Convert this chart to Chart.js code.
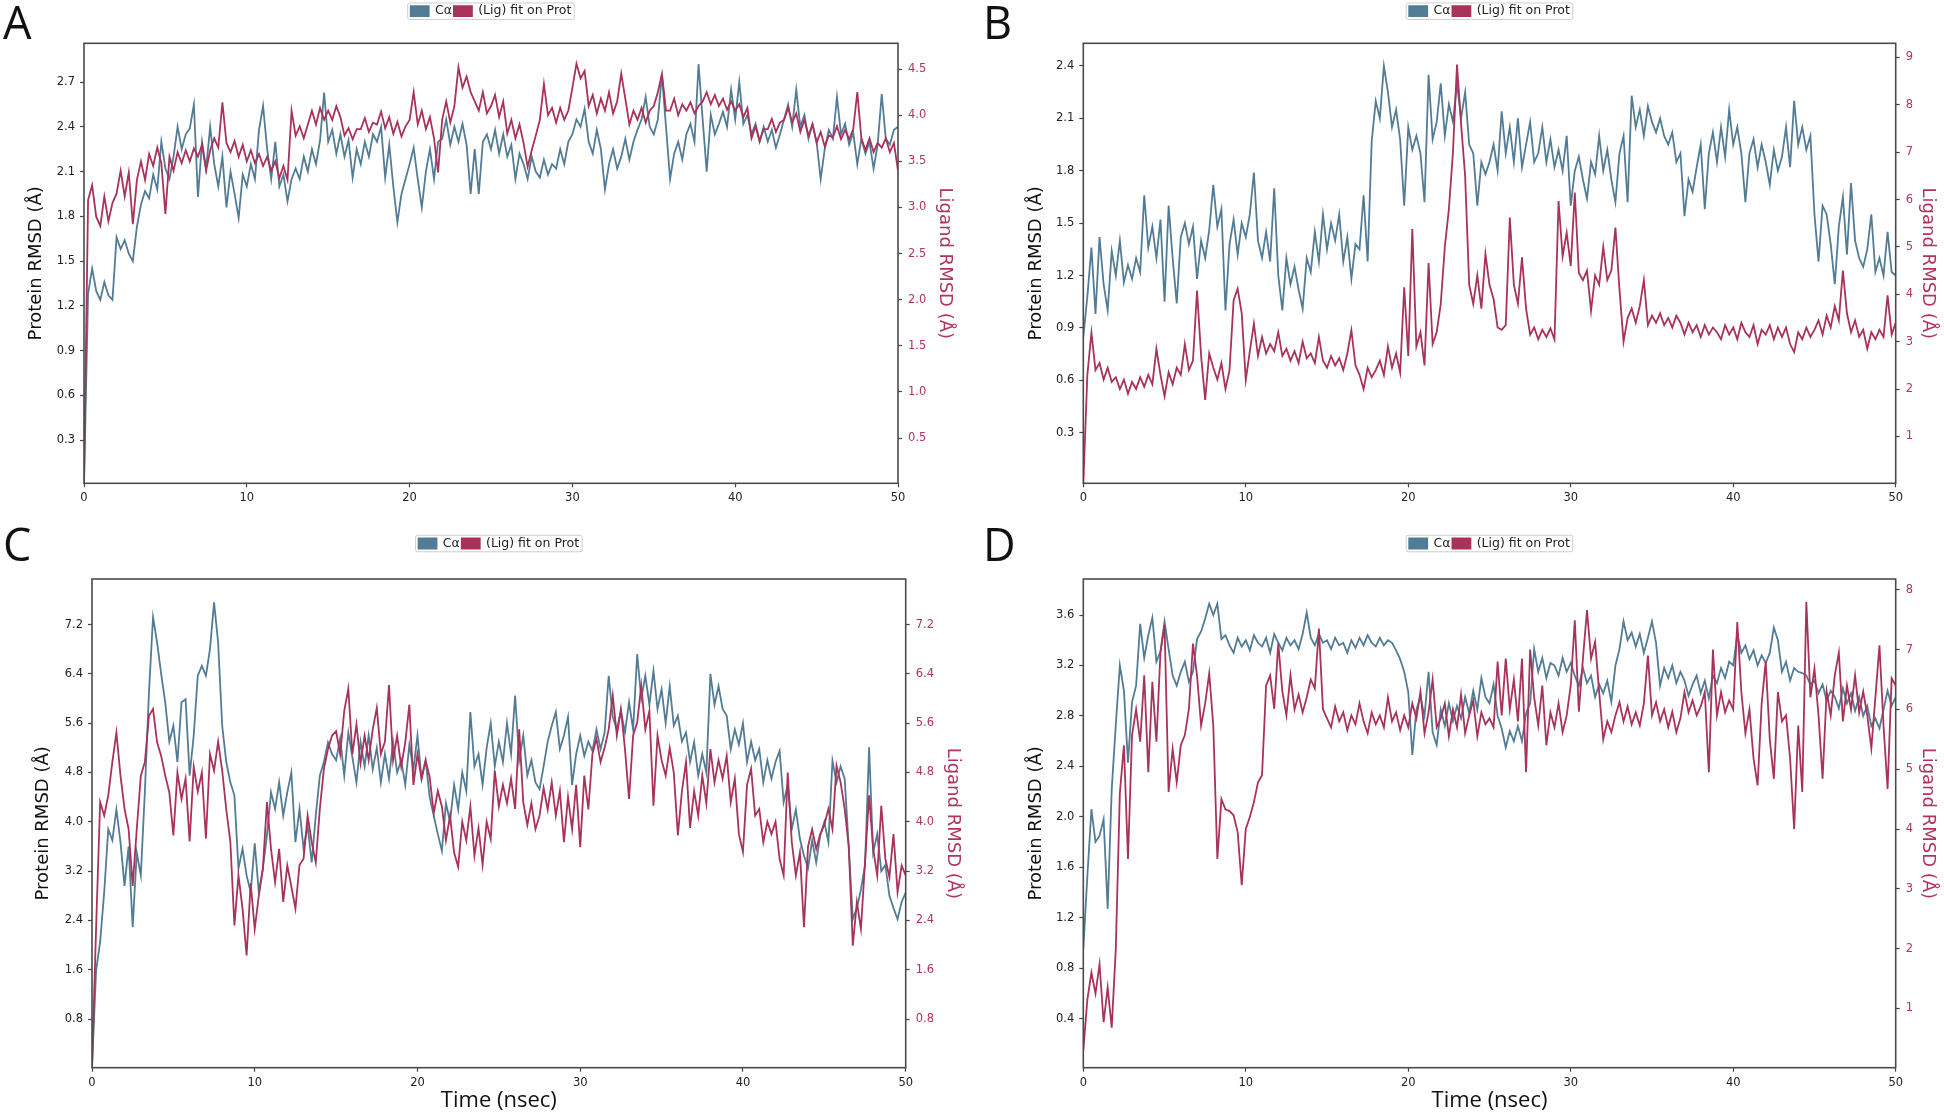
<!DOCTYPE html>
<html>
<head>
<meta charset="utf-8">
<script src="https://cdn.jsdelivr.net/npm/chart.js@4.4.1/dist/chart.umd.min.js"></script>
<style>
html, body { margin: 0; padding: 0; background: #fff; }
body { width: 1944px; height: 1115px; position: relative; overflow: hidden; }
.panel { position: absolute; }
.tag { position: absolute; font-family: 'Open Sans', sans-serif; font-size: 45px; line-height: 45px; color: #111; }
</style>
</head>
<body>
<div class="panel" id="pA" style="left:0;top:0;width:972px;height:508px"><canvas></canvas></div>
<div class="panel" id="pB" style="left:972px;top:0;width:972px;height:508px"><canvas></canvas></div>
<div class="panel" id="pC" style="left:0;top:530px;width:972px;height:585px"><canvas></canvas></div>
<div class="panel" id="pD" style="left:972px;top:530px;width:972px;height:585px"><canvas></canvas></div>
<div class="tag" style="left:3px;top:-1px">A</div>
<div class="tag" style="left:983px;top:-1px">B</div>
<div class="tag" style="left:3px;top:521px">C</div>
<div class="tag" style="left:983px;top:521px">D</div>
<script>
// simulation time (ns), one sample every 0.25 ns
const timeNs = [
  0,0.25,0.5,0.75,1,1.25,1.5,1.75,2,2.25,2.5,2.75,3,3.25,3.5,3.75,4,4.25,4.5,4.75,
  5,5.25,5.5,5.75,6,6.25,6.5,6.75,7,7.25,7.5,7.75,8,8.25,8.5,8.75,9,9.25,9.5,9.75,
  10,10.25,10.5,10.75,11,11.25,11.5,11.75,12,12.25,12.5,12.75,13,13.25,13.5,13.75,14,14.25,14.5,14.75,
  15,15.25,15.5,15.75,16,16.25,16.5,16.75,17,17.25,17.5,17.75,18,18.25,18.5,18.75,19,19.25,19.5,19.75,
  20,20.25,20.5,20.75,21,21.25,21.5,21.75,22,22.25,22.5,22.75,23,23.25,23.5,23.75,24,24.25,24.5,24.75,
  25,25.25,25.5,25.75,26,26.25,26.5,26.75,27,27.25,27.5,27.75,28,28.25,28.5,28.75,29,29.25,29.5,29.75,
  30,30.25,30.5,30.75,31,31.25,31.5,31.75,32,32.25,32.5,32.75,33,33.25,33.5,33.75,34,34.25,34.5,34.75,
  35,35.25,35.5,35.75,36,36.25,36.5,36.75,37,37.25,37.5,37.75,38,38.25,38.5,38.75,39,39.25,39.5,39.75,
  40,40.25,40.5,40.75,41,41.25,41.5,41.75,42,42.25,42.5,42.75,43,43.25,43.5,43.75,44,44.25,44.5,44.75,
  45,45.25,45.5,45.75,46,46.25,46.5,46.75,47,47.25,47.5,47.75,48,48.25,48.5,48.75,49,49.25,49.5,49.75,
  50
];

// panel A
const protA = [
  0.00,1.28,1.45,1.30,1.24,1.36,1.27,1.24,1.66,1.58,1.64,1.55,1.50,1.73,1.88,1.97,1.92,2.08,1.98,2.30,
  2.12,2.05,2.20,2.40,2.25,2.35,2.39,2.55,1.93,2.30,2.12,2.40,2.15,2.00,2.20,1.86,2.10,1.95,1.79,2.08,
  2.00,2.15,2.05,2.38,2.54,2.25,2.05,2.30,2.00,2.08,1.90,2.05,2.12,2.05,2.20,2.10,2.25,2.15,2.31,2.63,
  2.30,2.38,2.22,2.35,2.20,2.31,2.06,2.25,2.15,2.30,2.20,2.35,2.30,2.40,2.06,2.28,2.00,1.76,1.95,2.05,
  2.15,2.26,2.05,1.86,2.10,2.25,2.05,2.30,2.32,2.45,2.28,2.40,2.30,2.42,2.28,1.95,2.25,1.95,2.30,2.35,
  2.25,2.38,2.22,2.35,2.20,2.28,2.05,2.22,2.15,2.05,2.20,2.10,2.06,2.18,2.08,2.15,2.12,2.25,2.15,2.30,
  2.35,2.45,2.40,2.52,2.30,2.22,2.38,2.25,1.98,2.15,2.25,2.12,2.20,2.32,2.18,2.30,2.38,2.45,2.60,2.40,
  2.35,2.45,2.75,2.40,2.05,2.22,2.30,2.18,2.35,2.42,2.30,2.82,2.45,2.10,2.48,2.35,2.42,2.50,2.40,2.65,
  2.45,2.70,2.42,2.48,2.35,2.42,2.30,2.40,2.30,2.38,2.26,2.35,2.45,2.55,2.40,2.65,2.40,2.48,2.32,2.42,
  2.30,2.05,2.25,2.38,2.32,2.60,2.35,2.42,2.28,2.36,2.15,2.32,2.22,2.30,2.12,2.28,2.62,2.32,2.28,2.38,
  2.40
];
const ligA = [
  0.00,3.08,3.24,2.90,2.80,3.12,2.85,3.05,3.15,3.40,3.12,3.38,2.82,3.30,3.50,3.30,3.58,3.45,3.65,3.48,
  2.93,3.55,3.40,3.60,3.48,3.62,3.50,3.64,3.55,3.68,3.40,3.62,3.75,3.65,4.14,3.70,3.60,3.72,3.55,3.68,
  3.50,3.62,3.48,3.58,3.45,3.55,3.40,3.50,3.32,3.45,3.30,4.05,3.78,3.88,3.75,3.90,4.05,3.90,4.08,3.95,
  4.05,3.95,4.10,3.98,3.78,3.86,3.74,3.85,3.85,3.97,3.82,3.92,3.90,4.04,3.86,3.98,3.80,3.93,3.77,3.88,
  3.95,4.25,3.90,4.05,3.85,3.98,3.75,3.38,3.95,4.15,3.92,4.10,4.52,4.30,4.42,4.25,4.15,4.05,4.25,4.02,
  4.10,4.22,3.98,4.15,3.80,3.95,3.75,3.90,3.70,3.44,3.62,3.78,3.95,4.34,4.00,4.08,3.92,4.08,3.95,4.05,
  4.30,4.56,4.40,4.48,4.10,4.22,4.02,4.18,4.05,4.25,4.02,4.15,4.45,4.18,3.90,4.05,3.95,4.08,3.92,4.05,
  4.10,4.25,4.45,4.05,4.05,4.18,4.00,4.12,4.05,4.14,4.02,4.10,4.15,4.25,4.12,4.22,4.10,4.18,4.06,4.15,
  4.05,4.12,3.98,4.08,3.75,3.88,3.72,3.85,3.85,3.96,3.82,3.92,3.95,4.08,3.92,4.02,3.82,3.95,3.78,3.90,
  3.70,3.82,3.66,3.78,3.76,3.88,3.74,3.84,3.74,3.85,4.25,3.75,3.62,3.75,3.60,3.70,3.65,3.75,3.60,3.70,
  3.40
];

// panel B
const protB = [
  0.85,1.08,1.36,0.98,1.42,1.15,1.00,1.34,1.20,1.40,1.16,1.26,1.18,1.30,1.22,1.66,1.36,1.48,1.30,1.52,
  1.05,1.60,1.30,1.04,1.42,1.50,1.38,1.48,1.18,1.40,1.30,1.46,1.72,1.48,1.58,1.00,1.38,1.52,1.32,1.50,
  1.42,1.55,1.79,1.40,1.30,1.45,1.28,1.70,1.20,1.00,1.30,1.15,1.25,1.12,1.01,1.30,1.22,1.45,1.28,1.55,
  1.35,1.50,1.40,1.55,1.28,1.42,1.18,1.38,1.35,1.66,1.28,1.97,2.20,2.10,2.40,2.25,2.05,2.15,1.98,1.60,
  2.05,1.92,2.00,1.90,1.62,2.35,1.98,2.08,2.30,2.00,2.18,2.08,2.30,2.10,2.25,1.95,1.90,1.60,1.85,1.78,
  1.85,1.95,1.80,2.14,1.90,2.05,1.85,2.10,1.82,1.95,2.08,1.85,1.90,2.05,1.85,1.98,1.82,1.92,1.80,2.00,
  1.60,1.80,1.88,1.75,1.64,1.85,1.78,2.00,1.80,1.92,1.75,1.62,1.90,2.00,1.62,2.23,2.05,2.15,2.00,2.17,
  2.08,2.02,2.10,2.00,1.95,2.02,1.85,1.90,1.54,1.75,1.68,1.82,1.95,1.58,1.90,2.02,1.85,2.05,1.88,2.15,
  1.95,2.05,1.90,1.62,1.90,1.98,1.82,1.95,1.85,1.72,1.92,1.80,1.88,2.05,1.82,2.20,1.95,2.05,1.92,2.00,
  1.55,1.28,1.60,1.55,1.38,1.15,1.48,1.65,1.32,1.73,1.40,1.30,1.25,1.35,1.55,1.22,1.30,1.20,1.45,1.22,
  1.20
];
const ligB = [
  0.00,2.30,3.19,2.40,2.55,2.20,2.45,2.15,2.25,2.00,2.20,1.90,2.15,2.00,2.25,2.05,2.30,2.10,2.85,2.30,
  1.85,2.35,2.10,2.45,2.30,2.95,2.40,2.60,4.08,2.70,1.77,2.75,2.45,2.20,2.55,2.00,2.40,3.87,4.12,3.60,
  2.19,2.80,3.38,2.70,3.10,2.75,2.95,2.80,3.20,2.70,2.85,2.60,2.80,2.55,3.00,2.65,2.75,2.55,3.10,2.60,
  2.45,2.70,2.50,2.65,2.40,2.75,3.24,2.50,2.30,2.00,2.45,2.25,2.40,2.60,2.30,2.90,2.45,2.75,2.35,4.15,
  2.70,5.38,2.90,3.20,2.50,4.66,2.95,3.20,3.80,5.00,5.80,7.00,8.85,7.60,6.50,4.20,3.80,4.40,3.70,4.85,
  4.20,3.90,3.30,3.25,3.35,5.62,4.20,3.80,4.78,3.70,3.15,3.30,3.05,3.25,3.10,3.28,3.05,5.97,4.80,5.30,
  4.60,6.15,4.45,4.30,4.50,3.65,4.40,4.20,5.00,4.30,4.50,5.41,4.10,3.00,3.50,3.70,3.40,3.75,4.30,3.35,
  3.55,3.40,3.60,3.35,3.50,3.30,3.55,3.40,3.15,3.40,3.20,3.35,3.10,3.35,3.15,3.30,3.20,3.05,3.35,3.15,
  3.30,3.05,3.40,3.20,3.10,3.35,2.95,3.25,3.15,3.35,3.05,3.30,3.10,3.30,2.95,2.78,3.20,3.05,3.30,3.10,
  3.25,3.45,3.15,3.55,3.30,3.75,3.45,4.50,3.60,3.20,3.45,3.10,3.25,2.85,3.20,3.05,3.25,3.10,3.98,3.15,
  3.40
];

// panel C
const protC = [
  0.00,1.58,2.05,2.86,3.88,3.70,4.20,3.67,2.96,3.60,2.29,3.50,3.13,4.50,6.10,7.32,6.91,6.40,5.94,5.30,
  5.56,4.97,5.94,5.99,4.75,5.40,6.37,6.53,6.37,6.80,7.56,6.91,5.56,4.97,4.64,4.43,3.24,3.56,3.13,2.86,
  3.65,2.86,3.24,3.78,4.48,4.21,4.64,4.10,4.48,4.80,3.67,4.21,3.56,3.94,3.34,4.10,4.75,4.97,5.29,5.10,
  5.00,5.35,4.75,5.45,5.05,4.64,5.30,4.90,5.40,4.85,5.20,4.64,5.10,4.70,5.30,4.80,5.00,4.60,5.25,4.85,
  5.40,4.70,5.00,4.40,4.10,3.80,3.53,4.30,4.00,4.60,4.20,4.80,4.50,5.78,4.90,5.10,4.60,5.20,5.60,4.90,
  5.30,4.97,5.60,5.10,6.05,5.00,5.40,4.75,5.00,4.64,4.53,4.90,5.30,5.56,5.78,5.18,5.40,5.70,4.60,5.10,
  5.40,5.07,5.30,5.15,5.50,5.18,5.45,6.37,5.70,5.50,5.80,5.45,5.94,5.50,6.72,6.00,6.37,5.90,6.45,5.83,
  6.15,5.60,6.20,5.56,5.72,5.30,5.45,4.97,5.29,4.75,5.10,4.80,6.40,5.90,6.20,5.83,5.72,5.18,5.50,5.25,
  5.60,4.97,5.30,5.00,5.18,4.64,5.00,4.70,4.97,5.15,4.32,4.60,3.88,4.20,3.72,3.45,3.25,3.70,3.34,3.78,
  4.00,3.67,4.99,4.64,4.90,4.70,3.60,2.42,2.60,2.90,3.30,5.21,3.50,3.80,3.20,3.30,2.80,2.60,2.42,2.70,
  2.85
];
const ligC = [
  0.00,2.26,4.32,4.10,4.43,4.97,5.45,4.75,4.21,3.88,2.96,3.88,4.75,4.97,5.72,5.83,5.29,5.07,4.75,4.48,
  3.78,4.80,4.37,4.70,3.68,4.89,4.49,4.80,3.73,5.10,4.83,5.30,4.83,4.20,3.68,2.32,3.13,2.59,1.83,3.00,
  2.26,2.80,3.24,4.32,3.56,3.02,3.56,2.70,3.29,2.95,2.59,3.30,3.40,4.10,3.67,3.34,4.21,4.86,5.18,5.40,
  5.47,5.10,5.80,6.16,5.10,5.58,4.95,5.40,5.00,5.50,5.85,5.10,5.30,6.22,5.00,5.40,4.90,5.29,5.90,4.60,
  5.10,4.70,5.00,4.72,4.14,4.50,4.25,3.70,4.10,3.50,3.27,4.00,3.70,4.25,3.45,3.90,3.30,4.00,3.72,4.83,
  4.25,4.60,4.30,4.70,4.21,5.50,4.32,3.95,4.30,3.88,4.10,4.55,4.20,4.64,4.10,4.50,3.67,4.40,3.88,4.60,
  3.59,4.75,4.20,5.10,5.35,4.97,5.20,5.50,6.05,5.40,5.83,5.18,4.37,5.40,5.61,6.21,5.50,5.80,4.26,5.40,
  5.00,4.75,5.20,4.80,3.78,4.50,4.97,3.90,4.50,4.10,4.75,4.30,5.18,4.64,5.00,4.70,5.07,4.32,4.70,3.80,
  3.51,4.60,4.86,4.10,4.21,3.67,4.00,3.80,4.00,3.40,3.13,4.80,3.67,3.13,3.50,2.29,3.60,3.88,3.56,3.80,
  3.95,4.21,3.88,4.91,4.64,4.21,3.60,1.99,2.70,2.26,3.34,4.43,3.56,3.13,4.26,3.40,3.10,3.80,2.86,3.29,
  3.13
];

// panel D
const protD = [
  0.95,1.53,2.06,1.80,1.85,1.98,1.27,2.22,2.73,3.20,3.00,2.43,2.91,3.04,3.53,3.26,3.44,3.58,3.23,3.31,
  3.55,3.33,3.12,3.04,3.15,3.23,3.07,3.15,3.41,3.47,3.57,3.69,3.60,3.69,3.41,3.44,3.36,3.30,3.42,3.35,
  3.40,3.32,3.44,3.38,3.35,3.42,3.30,3.45,3.38,3.32,3.42,3.36,3.40,3.33,3.45,3.62,3.42,3.36,3.45,3.38,
  3.40,3.33,3.42,3.36,3.38,3.30,3.40,3.34,3.42,3.36,3.44,3.38,3.35,3.42,3.36,3.40,3.38,3.32,3.25,3.15,
  2.99,2.49,2.85,2.95,2.80,3.15,2.67,2.57,2.85,2.72,2.90,2.76,2.88,2.78,2.95,2.82,3.00,2.85,3.10,2.95,
  2.90,3.05,2.80,2.70,2.55,2.68,2.60,2.72,2.60,2.82,2.90,3.33,3.15,3.26,3.10,3.22,3.20,3.12,3.26,3.15,
  3.22,3.12,3.04,3.18,3.06,3.12,2.95,3.05,2.98,3.08,2.91,3.20,3.33,3.55,3.40,3.46,3.35,3.45,3.30,3.42,
  3.55,3.38,3.04,3.18,3.10,3.20,3.06,3.15,3.08,2.96,3.05,3.12,2.98,3.08,2.94,3.12,3.06,3.18,3.10,3.23,
  3.20,3.45,3.30,3.36,3.25,3.32,3.20,3.28,3.22,3.30,3.50,3.40,3.15,3.23,3.08,3.18,3.15,3.14,3.12,3.05,
  3.08,2.98,3.05,2.92,3.00,2.95,2.86,3.02,2.90,2.98,2.84,2.95,2.80,2.88,2.72,2.78,2.70,2.85,3.00,2.88,
  2.95
];
const ligD = [
  0.30,1.15,1.60,1.25,1.74,0.77,1.35,0.68,2.00,4.60,5.40,3.50,5.57,6.00,5.46,6.57,4.95,6.46,5.46,6.96,
  7.41,4.62,5.34,4.78,5.40,5.57,6.01,7.10,6.57,5.73,6.10,6.60,5.73,3.50,4.50,4.33,4.30,4.23,3.95,3.06,
  4.00,4.20,4.45,4.78,4.90,6.40,6.57,6.01,7.10,6.30,5.90,6.57,6.00,6.25,5.95,6.20,6.50,6.35,7.35,6.00,
  5.85,5.70,6.05,5.80,5.95,5.65,5.90,5.75,6.10,5.80,5.60,5.95,5.75,5.90,5.70,6.20,5.80,5.95,5.65,5.90,
  5.70,6.10,5.85,6.30,5.60,5.95,6.50,5.70,5.85,6.10,5.55,6.00,5.70,6.25,5.60,5.90,6.15,5.55,5.95,5.75,
  5.85,5.70,6.80,5.90,6.85,6.00,6.50,5.80,6.85,4.95,7.00,6.20,5.73,6.40,5.40,5.95,5.70,6.10,5.62,5.90,
  6.40,7.49,5.96,6.85,7.66,6.85,7.13,6.29,5.50,5.80,5.62,5.90,6.12,5.80,6.05,5.75,5.95,5.73,6.10,6.90,
  5.90,6.12,5.80,6.00,5.70,5.96,5.62,5.85,6.29,5.95,6.15,5.90,6.05,6.29,4.95,7.00,5.90,6.29,5.95,6.15,
  6.00,7.46,6.29,5.60,6.00,5.18,4.73,6.10,6.80,5.50,4.84,6.29,5.80,5.90,5.18,4.00,5.73,4.62,7.80,6.20,
  6.68,5.90,4.84,6.30,5.90,6.57,6.95,5.80,6.40,6.00,6.57,5.95,6.30,5.90,5.35,6.20,7.07,5.73,4.67,6.52,
  6.40
];

const BLUE = '#527c96';
const RED = '#a8325a';
const RED_TEXT = '#b0345e';

Chart.defaults.font.family = "'DejaVu Sans', sans-serif";

// layout of each panel (pixel sizes only, no data)
const panels = [
  { id: 'pA', prot: protA, lig: ligA, yMax: 2.96, yStep: 0.3, y2Max: 4.78, y2Step: 0.5, y2Dec: 1,
    leftW: 84, rightW: 74, padTop: 2.95, topH: 15.85, bottomH: 24.7, lPad: 25.2, rPad: 16.2, xTitle: false },
  { id: 'pB', prot: protB, lig: ligB, yMax: 2.53, yStep: 0.3, y2Max: 9.3, y2Step: 1, y2Dec: 0,
    leftW: 111.3, rightW: 48.3, padTop: 2.95, topH: 15.85, bottomH: 24.7, lPad: 53.2, rPad: 5.2, xTitle: false },
  { id: 'pC', prot: protC, lig: ligC, yMax: 7.94, yStep: 0.8, y2Max: 7.94, y2Step: 0.8, y2Dec: 1,
    leftW: 92, rightW: 66.3, padTop: 5.25, topH: 19.25, bottomH: 47.3, lPad: 32.7, rPad: 8.7, xTitle: true },
  { id: 'pD', prot: protD, lig: ligD, yMax: 3.886, yStep: 0.4, y2Max: 8.18, y2Step: 1, y2Dec: 0,
    leftW: 111.3, rightW: 48.3, padTop: 5.25, topH: 19.25, bottomH: 47.3, lPad: 53.2, rPad: 5.2, xTitle: true }
];

// axes frame and the little box round the legend
const framePlugin = {
  id: 'frame',
  beforeDraw(chart) {
    const hb = chart.legend && chart.legend.legendHitBoxes;
    if (!hb || !hb.length) return;
    const ctx = chart.ctx;
    const last = hb[hb.length - 1];
    const x0 = hb[0].left - 3, x1 = last.left + last.width + 3;
    const y0 = hb[0].top - 2, y1 = hb[0].top + hb[0].height + 2;
    ctx.save();
    ctx.fillStyle = '#fff';
    ctx.strokeStyle = '#cfcfcf';
    ctx.lineWidth = 1;
    ctx.beginPath();
    ctx.roundRect(x0, y0, x1 - x0, y1 - y0, 2);
    ctx.fill();
    ctx.stroke();
    ctx.restore();
  },
  afterDatasetsDraw(chart) {
    const { left, top, width, height } = chart.chartArea;
    const ctx = chart.ctx;
    ctx.save();
    ctx.strokeStyle = '#4a4a4a';
    ctx.lineWidth = 1.6;
    ctx.strokeRect(left, top, width, height);
    ctx.restore();
  }
};

const tickGrid = { drawOnChartArea: false, tickLength: 4, tickColor: '#444', tickWidth: 1.2 };

function buildPanel(p) {
  const canvas = document.querySelector('#' + p.id + ' canvas');
  return new Chart(canvas, {
    type: 'line',
    data: {
      labels: timeNs,
      datasets: [
        { label: 'C\u03b1', data: p.prot, xAxisID: 'x', yAxisID: 'y',
          borderColor: BLUE, backgroundColor: BLUE, order: 1 },
        { label: '(Lig) fit on Prot', data: p.lig, xAxisID: 'x', yAxisID: 'y2',
          borderColor: RED, backgroundColor: RED, order: 0 }
      ]
    },
    options: {
      responsive: true,
      maintainAspectRatio: false,
      animation: false,
      layout: { padding: { top: p.padTop, left: 0, right: 0, bottom: 0 } },
      elements: { point: { radius: 0 }, line: { borderWidth: 1.8, tension: 0 } },
      plugins: {
        legend: {
          position: 'top',
          fullSize: false,
          labels: { boxWidth: 18, boxHeight: 10, padding: 2, color: '#222', font: { size: 12.5 },
                    sort: (a, b) => a.datasetIndex - b.datasetIndex }
        },
        tooltip: { enabled: false }
      },
      scales: {
        x: {
          type: 'linear', position: 'bottom', min: 0, max: 50,
          ticks: { stepSize: 10, color: '#222', font: { size: 11.5 }, padding: 4, maxRotation: 0 },
          grid: tickGrid,
          border: { display: false },
          title: p.xTitle
            ? { display: true, text: 'Time (nsec)', color: '#111',
                font: { family: "'Open Sans', sans-serif", size: 22 }, padding: { top: 0, bottom: 0.6 } }
            : { display: false },
          afterFit: s => { s.height = p.bottomH; }
        },
        xTop: {
          type: 'linear', position: 'top', min: 0, max: 50,
          ticks: { display: false }, grid: { display: false }, border: { display: false },
          afterFit: s => { s.height = p.topH; }
        },
        y: {
          position: 'left', min: 0.01, max: p.yMax,
          ticks: { stepSize: p.yStep, includeBounds: false, color: '#222', font: { size: 11.5 }, padding: 5,
                   callback: v => v.toFixed(1) },
          grid: tickGrid,
          border: { display: false },
          title: { display: true, text: 'Protein RMSD (\u00c5)', color: '#111', font: { size: 18 },
                   padding: { top: p.lPad, bottom: 0 } },
          afterFit: s => { s.width = p.leftW; }
        },
        y2: {
          position: 'right', min: 0.01, max: p.y2Max,
          ticks: { stepSize: p.y2Step, includeBounds: false, color: RED_TEXT, font: { size: 11.5 }, padding: 6,
                   callback: v => v.toFixed(p.y2Dec) },
          grid: tickGrid,
          border: { display: false },
          title: { display: true, text: 'Ligand RMSD (\u00c5)', color: RED_TEXT, font: { size: 18 },
                   padding: { top: p.rPad, bottom: 0 } },
          afterFit: s => { s.width = p.rightW; }
        }
      }
    },
    plugins: [framePlugin]
  });
}

panels.forEach(buildPanel);
</script>
</body>
</html>
